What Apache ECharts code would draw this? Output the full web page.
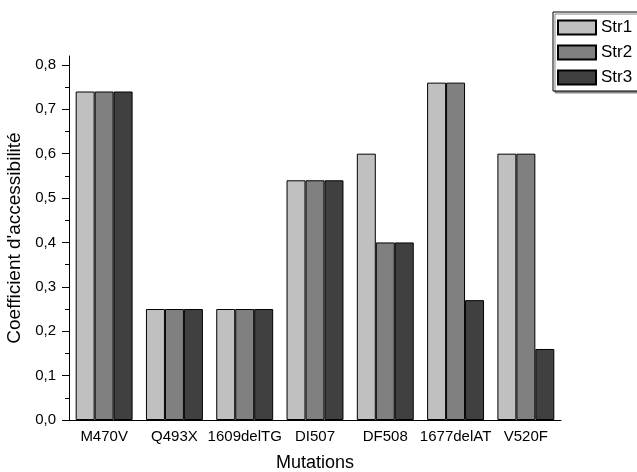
<!DOCTYPE html>
<html>
<head>
<meta charset="utf-8">
<script src="https://cdn.jsdelivr.net/npm/echarts@6/dist/echarts.min.js"></script>
<style>html,body{margin:0;padding:0;background:#fff;}#c{width:637px;height:472px;}</style>
</head>
<body>
<div id="c"></div>
<script>
const categories = ['M470V', 'Q493X', '1609delTG', 'DI507', 'DF508', '1677delAT', 'V520F'];
const str1 = [0.74, 0.25, 0.25, 0.54, 0.60, 0.76, 0.60];
const str2 = [0.74, 0.25, 0.25, 0.54, 0.40, 0.76, 0.60];
const str3 = [0.74, 0.25, 0.25, 0.54, 0.40, 0.27, 0.16];
const seriesNames = ['Str1', 'Str2', 'Str3'];
const yMajorTicks = [0, 0.1, 0.2, 0.3, 0.4, 0.5, 0.6, 0.7, 0.8];
const yMinorTicks = [0.05, 0.15, 0.25, 0.35, 0.45, 0.55, 0.65, 0.75];

const font = 'Liberation Sans, Arial, sans-serif';
const colors = ['#c0c0c0', '#808080', '#404040'];
const chart = echarts.init(document.getElementById('c'));
const mkSeries = (name, data, i) => ({
  name, type: 'bar', data, xAxisIndex: 0, yAxisIndex: 0,
  barGap: '0%', barCategoryGap: '19%',
  itemStyle: { color: colors[i], borderColor: '#000', borderWidth: 1 }
});
chart.setOption({
  animation: false,
  backgroundColor: '#fff',
  grid: { left: 69, right: 76, top: 56, bottom: 52, containLabel: false, outerBoundsMode: 'none' },
  legend: {
    orient: 'vertical', left: 553, top: 12,
    icon: 'rect', itemWidth: 38, itemHeight: 14, itemGap: 8,
    padding: [7, 12, 5, 4],
    borderColor: '#000', borderWidth: 1,
    backgroundColor: '#fff',
    shadowColor: '#888', shadowOffsetX: 2, shadowOffsetY: 2, shadowBlur: 0,
    textStyle: { fontFamily: font, fontSize: 17, color: '#000', lineHeight: 14 },
    data: seriesNames
  },
  xAxis: [{
    type: 'category', data: categories, position: 'bottom',
    name: 'Mutations', nameLocation: 'middle', nameGap: 34,
    nameTextStyle: { fontFamily: font, fontSize: 18, color: '#000' },
    axisLine: { lineStyle: { color: '#000', width: 1 } },
    axisTick: { alignWithLabel: true, length: 6, lineStyle: { color: '#000' } },
    axisLabel: { fontFamily: font, fontSize: 15, color: '#000', margin: 9, interval: 0 }
  }, {
    type: 'category', data: categories, position: 'bottom',
    axisLine: { show: false },
    axisTick: { alignWithLabel: false, length: 3, lineStyle: { color: '#000' } },
    axisLabel: { show: false }
  }],
  yAxis: [{
    type: 'value', min: 0, max: 0.82,
    name: "Coefficient d'accessibilité", nameLocation: 'middle', nameGap: 38,
    nameTextStyle: { fontFamily: font, fontSize: 19, color: '#000' },
    axisLine: { show: true, lineStyle: { color: '#000', width: 1 } },
    axisTick: { show: true, length: 7, customValues: yMajorTicks, lineStyle: { color: '#000' } },
    axisLabel: {
      fontFamily: font, fontSize: 15, color: '#000', margin: 13,
      customValues: yMajorTicks,
      formatter: v => v.toFixed(1).replace('.', ',')
    },
    splitLine: { show: false }
  }, {
    type: 'value', min: 0, max: 0.82, position: 'left',
    axisLine: { show: false },
    axisTick: { show: true, length: 4, customValues: yMinorTicks, lineStyle: { color: '#000' } },
    axisLabel: { show: false },
    splitLine: { show: false }
  }],
  series: [mkSeries('Str1', str1, 0), mkSeries('Str2', str2, 1), mkSeries('Str3', str3, 2)]
});
</script>
</body>
</html>
